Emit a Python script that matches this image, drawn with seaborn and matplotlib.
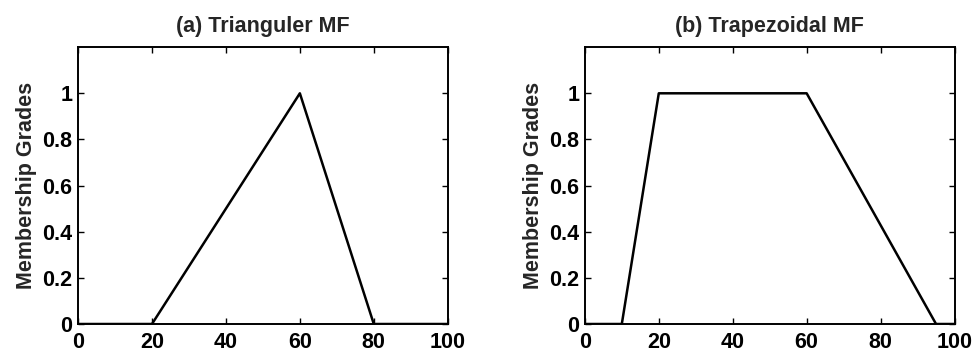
import matplotlib
matplotlib.use("Agg")
import matplotlib.pyplot as plt
import seaborn as sns
import pandas as pd

# Data
tri_x = [0, 20, 60, 80, 100]
tri_y = [0, 0, 1, 0, 0]
trap_x = [0, 10, 20, 60, 95, 100]
trap_y = [0, 0, 1, 1, 0, 0]
titles = ["(a) Trianguler MF", "(b) Trapezoidal MF"]
ylabel = "Membership Grades"
xticks = [0, 20, 40, 60, 80, 100]
yticks = [0, 0.2, 0.4, 0.6, 0.8, 1]
yticklabels = ["0", "0.2", "0.4", "0.6", "0.8", "1"]

sns.set_style("ticks")
plt.rcParams["font.family"] = ["Liberation Sans", "DejaVu Sans"]
plt.rcParams["font.weight"] = "bold"

fig = plt.figure(figsize=(9.78, 3.6), dpi=100)
ax1 = fig.add_axes([0.0798, 0.10, 0.378, 0.769])
ax2 = fig.add_axes([0.598, 0.10, 0.378, 0.769])

for ax, xs, ys, title in [(ax1, tri_x, tri_y, titles[0]), (ax2, trap_x, trap_y, titles[1])]:
    df = pd.DataFrame({"x": xs, "y": ys})
    sns.lineplot(data=df, x="x", y="y", ax=ax, color="black", linewidth=1.8,
                 sort=False, estimator=None)
    ax.set_xlim(0, 100)
    ax.set_ylim(0, 1.2)
    ax.set_xticks(xticks)
    ax.set_yticks(yticks)
    ax.set_yticklabels(yticklabels)
    ax.tick_params(direction="in", top=True, right=True, length=4, width=1,
                   labelsize=15.5, colors="black", pad=6)
    ax.tick_params(axis="y", pad=4)
    for s in ax.spines.values():
        s.set_visible(True)
        s.set_linewidth(1.4)
        s.set_color("black")
    ax.set_xlabel("")
    ax.set_ylabel(ylabel, fontsize=15.5, labelpad=4, fontweight="bold")
    ax.set_title(title, fontsize=15.5, pad=11, fontweight="bold")

fig.savefig("out.png", dpi=100)
